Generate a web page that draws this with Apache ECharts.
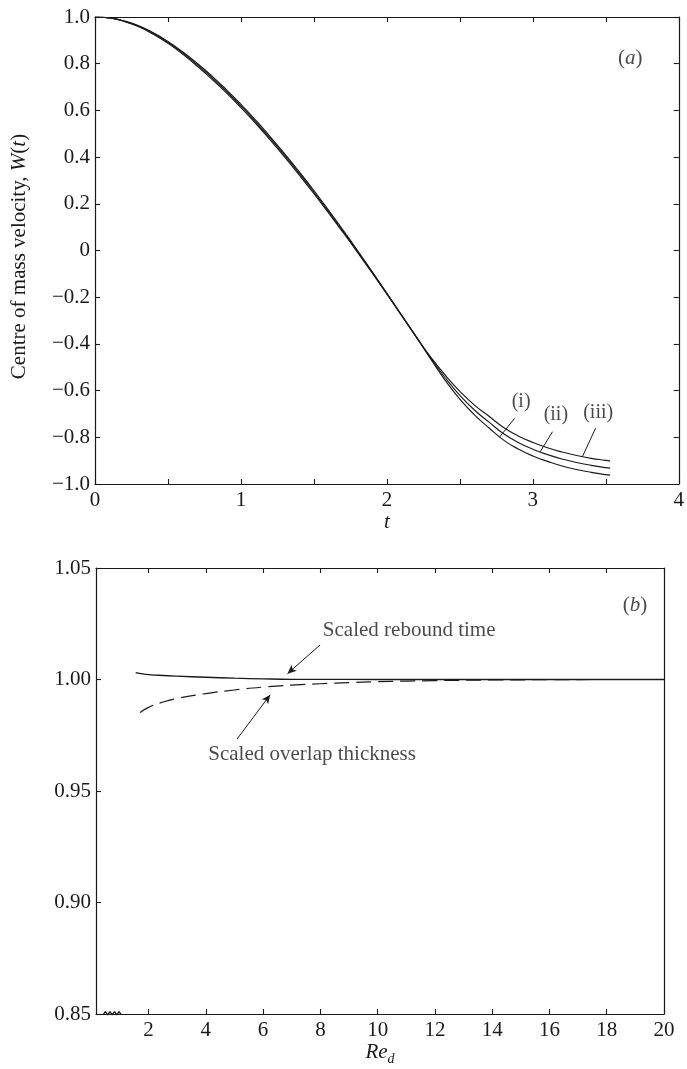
<!DOCTYPE html>
<html>
<head>
<meta charset="utf-8">
<script src="https://cdn.jsdelivr.net/npm/echarts@6.0.0/dist/echarts.min.js"></script>
<style>
  html, body { margin: 0; padding: 0; background: #fff; }
  #chart { width: 687px; height: 1069px; }
</style>
</head>
<body>
<div id="chart"></div>
<script>
// ---- Panel (a): centre of mass velocity W(t) for three cases ----
const tTop = [0, 0.1, 0.2, 0.3, 0.4, 0.5, 0.6, 0.7, 0.8, 0.9, 1.0, 1.1, 1.2, 1.3, 1.4, 1.5, 1.6, 1.7,
              1.8, 1.9, 2.0, 2.1, 2.2, 2.3, 2.4, 2.5, 2.6, 2.7, 2.8, 2.9, 3.0, 3.1, 3.2, 3.3, 3.4, 3.5, 3.53];
const wCaseI = [1.000, 0.996, 0.983, 0.962, 0.932, 0.895, 0.851, 0.802, 0.748, 0.689, 0.626, 0.559, 0.488,
                0.414, 0.337, 0.257, 0.173, 0.087, -0.001, -0.091, -0.183, -0.276, -0.369, -0.464, -0.556,
                -0.637, -0.704, -0.760, -0.812, -0.850, -0.880, -0.903, -0.923, -0.938, -0.950, -0.960, -0.962];
const wCaseII = [1.000, 0.996, 0.982, 0.960, 0.929, 0.891, 0.846, 0.796, 0.741, 0.682, 0.619, 0.552, 0.481,
                 0.407, 0.330, 0.250, 0.167, 0.082, -0.005, -0.094, -0.185, -0.277, -0.369, -0.460, -0.545,
                 -0.620, -0.683, -0.735, -0.785, -0.822, -0.851, -0.874, -0.893, -0.908, -0.920, -0.930, -0.932];
const wCaseIII = [1.000, 0.996, 0.981, 0.958, 0.926, 0.887, 0.841, 0.790, 0.734, 0.675, 0.612, 0.545, 0.474,
                  0.400, 0.323, 0.243, 0.161, 0.077, -0.009, -0.097, -0.187, -0.278, -0.369, -0.456, -0.534,
                  -0.603, -0.662, -0.710, -0.758, -0.794, -0.822, -0.845, -0.863, -0.878, -0.890, -0.899, -0.902];
const topXTicks = [0, 1, 2, 3, 4];
const topYTicks = [-1.0, -0.8, -0.6, -0.4, -0.2, 0, 0.2, 0.4, 0.6, 0.8, 1.0];

// ---- Panel (b): scaled rebound time and scaled overlap thickness vs Re_d ----
const reRebound = [1.55, 1.8, 2.0, 2.5, 3.0, 4.0, 5.0, 6.0, 7.0, 8.0, 10.0, 12.0, 14.0, 16.0, 18.0, 20.0];
const scaledRebound = [1.0031, 1.0025, 1.0022, 1.0018, 1.0015, 1.0010, 1.0006, 1.0003, 1.0001, 1.00005,
                       1.0000, 1.0000, 1.0000, 1.0000, 1.0000, 1.0000];
const reOverlap = [1.7, 2.0, 2.5, 3.0, 4.0, 5.0, 6.0, 7.0, 8.0, 9.0, 10.0, 11.0, 12.0, 14.0, 16.0, 18.0, 20.0];
const scaledOverlap = [0.9852, 0.9875, 0.9899, 0.9915, 0.9937, 0.9953, 0.9966, 0.9975, 0.9981, 0.9986,
                       0.9990, 0.9993, 0.9995, 0.9998, 0.9999, 1.0000, 1.0000];
const bottomXTicks = [2, 4, 6, 8, 10, 12, 14, 16, 18, 20];
const bottomYTicks = [0.85, 0.90, 0.95, 1.00, 1.05];
// axis-break zigzag drawn on the Re_d axis near its origin
const breakRe = [0.41, 0.49, 0.57, 0.65, 0.73, 0.81, 0.89, 0.97, 1.05];
const breakY = [0.8496, 0.8511, 0.8496, 0.8511, 0.8496, 0.8511, 0.8496, 0.8511, 0.8496];

const SERIF = '"Liberation Serif", "DejaVu Serif", serif';
const INK = '#1a1a1a';
const FS = 21;

function pairs(xs, ys) { return xs.map((x, i) => [x, ys[i]]); }

function fmtTopY(v) {
  if (Math.abs(v) < 1e-9) return '0';
  return (v < 0 ? '\u2212' : '') + Math.abs(v).toFixed(1);
}

const axisLineStyle = { onZero: false, lineStyle: { color: INK, width: 1.2 } };
const tickIn = { inside: true, length: 5, lineStyle: { color: INK, width: 1.1 } };
const labelStyle = { color: INK, fontFamily: SERIF, fontSize: FS };
const italic = { fontFamily: SERIF, fontStyle: 'italic', fontSize: FS, color: INK };

function textPoint(x, y, text, size) {
  return {
    value: [x, y],
    label: { show: true, position: 'inside', formatter: text, fontFamily: SERIF, fontSize: size, color: INK }
  };
}

const option = {
  animation: false,
  backgroundColor: '#fff',
  grid: [
    { left: 95, top: 17, width: 589, height: 467 },
    { left: 96, top: 568, width: 568, height: 446 }
  ],
  xAxis: [
    { // (a) bottom
      type: 'value', gridIndex: 0, min: 0, max: 4, interval: 0.5,
      axisLine: axisLineStyle, axisTick: tickIn, splitLine: { show: false },
      axisLabel: Object.assign({ margin: 6, formatter: v => topXTicks.includes(v) ? String(v) : '' }, labelStyle),
      name: 't', nameLocation: 'middle', nameGap: 19, nameTextStyle: italic
    },
    { // (a) top frame
      type: 'value', gridIndex: 0, position: 'top', min: 0, max: 4, interval: 0.5,
      axisLine: axisLineStyle, axisTick: tickIn, axisLabel: { show: false }, splitLine: { show: false }
    },
    { // (b) bottom
      type: 'value', gridIndex: 1, min: 0.164, max: 20,
      axisLine: axisLineStyle,
      axisTick: Object.assign({ customValues: bottomXTicks }, tickIn),
      axisLabel: Object.assign({ margin: 6, customValues: bottomXTicks, formatter: v => String(v) }, labelStyle),
      splitLine: { show: false },
      name: '{it|Re}{sub|d}', nameLocation: 'middle', nameGap: 24,
      nameTextStyle: {
        rich: {
          it: { fontFamily: SERIF, fontStyle: 'italic', fontSize: FS, color: INK, lineHeight: 28, verticalAlign: 'middle' },
          sub: { fontFamily: SERIF, fontStyle: 'italic', fontSize: 14, color: INK, lineHeight: 14, verticalAlign: 'bottom' }
        }
      }
    },
    { // (b) top frame
      type: 'value', gridIndex: 1, position: 'top', min: 0.164, max: 20,
      axisLine: axisLineStyle,
      axisTick: Object.assign({ customValues: bottomXTicks }, tickIn),
      axisLabel: { show: false }, splitLine: { show: false }
    }
  ],
  yAxis: [
    { // (a) left
      type: 'value', gridIndex: 0, min: -1, max: 1, interval: 0.2,
      axisLine: axisLineStyle, axisTick: tickIn, splitLine: { show: false },
      axisLabel: Object.assign({ margin: 5, formatter: fmtTopY }, labelStyle),
      name: 'Centre of mass velocity, {it|W}({it|t})', nameLocation: 'middle', nameGap: 65,
      nameTextStyle: {
        fontFamily: SERIF, fontSize: FS, color: INK, padding: [0, 12, 0, 0],
        rich: { it: italic }
      }
    },
    { // (a) right frame
      type: 'value', gridIndex: 0, position: 'right', min: -1, max: 1, interval: 0.2,
      axisLine: axisLineStyle, axisTick: tickIn, axisLabel: { show: false }, splitLine: { show: false }
    },
    { // (b) left
      type: 'value', gridIndex: 1, min: 0.85, max: 1.05, interval: 0.05,
      axisLine: axisLineStyle, axisTick: tickIn, splitLine: { show: false },
      axisLabel: Object.assign({ margin: 5, formatter: v => v.toFixed(2) }, labelStyle)
    },
    { // (b) right frame
      type: 'value', gridIndex: 1, position: 'right', min: 0.85, max: 1.05,
      axisLine: axisLineStyle, axisTick: { show: false }, axisLabel: { show: false }, splitLine: { show: false }
    }
  ],
  series: [
    {
      name: '(i)', type: 'line', xAxisIndex: 0, yAxisIndex: 0, smooth: true, symbol: 'none',
      lineStyle: { color: INK, width: 1.15 }, data: pairs(tTop, wCaseI)
    },
    {
      name: '(ii)', type: 'line', xAxisIndex: 0, yAxisIndex: 0, smooth: true, symbol: 'none',
      lineStyle: { color: INK, width: 1.15 }, data: pairs(tTop, wCaseII)
    },
    {
      name: '(iii)', type: 'line', xAxisIndex: 0, yAxisIndex: 0, smooth: true, symbol: 'none',
      lineStyle: { color: INK, width: 1.15 }, data: pairs(tTop, wCaseIII)
    },
    { // case labels and leaders in panel (a)
      type: 'scatter', xAxisIndex: 0, yAxisIndex: 0, symbolSize: 1, itemStyle: { color: 'rgba(0,0,0,0)' },
      silent: true, z: 5,
      data: [
        textPoint(2.92, -0.648, '(i)', 20),
        textPoint(3.158, -0.704, '(ii)', 20),
        textPoint(3.448, -0.697, '(iii)', 20),
        textPoint(3.667, 0.824, '({it|a})', FS)
      ],
      label: { rich: { it: italic } },
      markLine: {
        silent: true, symbol: ['none', 'none'], label: { show: false },
        lineStyle: { color: INK, width: 1, type: 'solid', curveness: 0.15 },
        data: [
          [{ coord: [2.875, -0.719] }, { coord: [2.773, -0.798] }],
          [{ coord: [3.135, -0.776] }, { coord: [3.051, -0.862] }],
          [{ coord: [3.430, -0.761] }, { coord: [3.339, -0.884] }]
        ]
      }
    },
    {
      name: 'Scaled rebound time', type: 'line', xAxisIndex: 2, yAxisIndex: 2, smooth: true, symbol: 'none',
      lineStyle: { color: INK, width: 1.3 }, data: pairs(reRebound, scaledRebound)
    },
    {
      name: 'Scaled overlap thickness', type: 'line', xAxisIndex: 2, yAxisIndex: 2, smooth: true, symbol: 'none',
      lineStyle: { color: INK, width: 1.2, type: [15, 7] }, data: pairs(reOverlap, scaledOverlap)
    },
    {
      type: 'line', xAxisIndex: 2, yAxisIndex: 2, symbol: 'none', clip: false, silent: true,
      lineStyle: { color: INK, width: 1.4 }, data: pairs(breakRe, breakY)
    },
    { // text and arrows in panel (b)
      type: 'scatter', xAxisIndex: 2, yAxisIndex: 2, symbolSize: 1, itemStyle: { color: 'rgba(0,0,0,0)' },
      silent: true, z: 5,
      data: [
        textPoint(11.1, 1.0222, 'Scaled rebound time', FS),
        textPoint(7.71, 0.9662, 'Scaled overlap thickness', FS),
        textPoint(18.99, 1.0334, '({it|b})', FS)
      ],
      label: { rich: { it: italic } },
      markLine: {
        silent: true, symbol: ['none', 'arrow'], symbolSize: [6, 9], label: { show: false },
        lineStyle: { color: INK, width: 1, type: 'solid', curveness: -0.2 },
        data: [
          [{ coord: [7.99, 1.0155] }, { coord: [6.85, 1.0026] }],
          [{ coord: [5.09, 0.9733], lineStyle: { curveness: 0.2 } }, { coord: [6.25, 0.9932] }]
        ]
      }
    }
  ]
};

const chart = echarts.init(document.getElementById('chart'), null, { renderer: 'canvas' });
chart.setOption(option);
</script>
</body>
</html>
